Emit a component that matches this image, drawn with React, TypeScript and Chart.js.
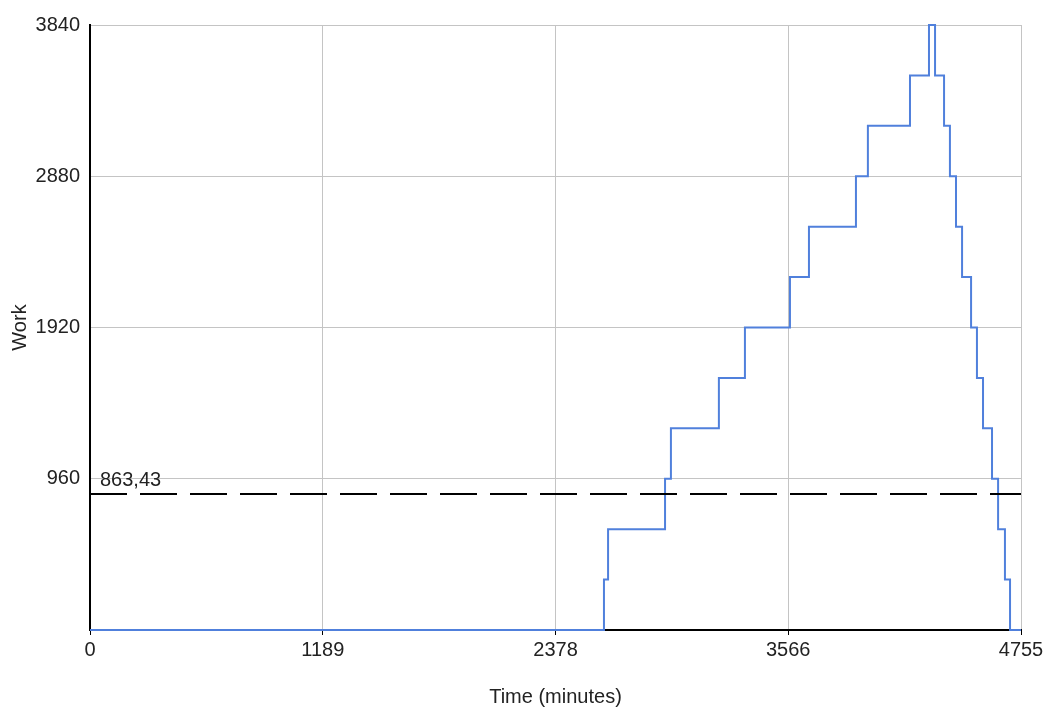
import React, { useEffect, useRef } from "react";
import { Chart, registerables } from "chart.js";

Chart.register(...registerables);

const stepTimes = [0, 2625, 2646, 2937, 2967, 3212, 3345, 3575, 3672, 3912, 3973, 4188, 4285, 4316, 4362, 4392, 4423, 4454, 4500, 4530, 4561, 4607, 4638, 4673, 4699, 4755];
const stepWork = [0, 320, 640, 960, 1280, 1600, 1920, 2240, 2560, 2880, 3200, 3520, 3840, 3520, 3200, 2880, 2560, 2240, 1920, 1600, 1280, 960, 640, 320, 0, 0];
const xTicks = [0, 1189, 2378, 3566, 4755];
const yTicks = [0, 960, 1920, 2880, 3840];
const thresholdValue = 863.43;
const thresholdLabel = "863,43";
const xTitle = "Time (minutes)";
const yTitle = "Work";

const FONT = "'Liberation Sans', Arial, sans-serif";

export default function App() {
  const ref = useRef<HTMLCanvasElement | null>(null);
  useEffect(() => {
    if (!ref.current) return;
    const labelPlugin = {
      id: "thresholdLabel",
      afterDatasetsDraw(chart: any) {
        const { ctx, scales } = chart;
        const x = scales.x.getPixelForValue(0) + 10;
        const y = scales.y.getPixelForValue(thresholdValue) - 3;
        ctx.save();
        ctx.font = `20px ${FONT}`;
        ctx.fillStyle = "#222";
        ctx.textAlign = "left";
        ctx.textBaseline = "bottom";
        ctx.fillText(thresholdLabel, x, y);
        ctx.restore();
      },
    };
    const chart = new Chart(ref.current, {
      type: "line",
      data: {
        datasets: [
          {
            label: "Threshold",
            data: [
              { x: xTicks[0], y: thresholdValue },
              { x: xTicks[xTicks.length - 1], y: thresholdValue },
            ],
            borderColor: "#000",
            borderWidth: 2,
            borderDash: [37, 13],
            pointRadius: 0,
            fill: false,
            clip: false as any,
          },
          {
            label: "Work",
            data: stepTimes.map((t, i) => ({ x: t, y: stepWork[i] })),
            borderColor: "#5080dc",
            borderWidth: 2,
            stepped: "before",
            pointRadius: 0,
            fill: false,
            clip: false as any,
          },
        ],
      },
      options: {
        animation: false,
        responsive: false,
        layout: { padding: { top: 25, right: 26, left: 0, bottom: 0 } },
        plugins: { legend: { display: false }, tooltip: { enabled: false } },
        scales: {
          x: {
            type: "linear",
            min: xTicks[0],
            max: xTicks[xTicks.length - 1],
            afterBuildTicks: (s: any) => {
              s.ticks = xTicks.map((v) => ({ value: v }));
            },
            afterFit: (s: any) => {
              s.height = 79;
            },
            grid: { color: "#c4c4c4", lineWidth: 1, tickColor: "#000", tickLength: 5 },
            border: { color: "#000", width: 2 },
            ticks: {
              color: "#222",
              font: { family: FONT, size: 20 },
              padding: 3,
              maxRotation: 0,
              autoSkip: false,
              callback: (v: any) => String(v),
            },
            title: {
              display: true,
              text: xTitle,
              color: "#222",
              font: { family: FONT, size: 20 },
              padding: { top: 0, bottom: 0 },
            },
          },
          y: {
            type: "linear",
            min: yTicks[0],
            max: yTicks[yTicks.length - 1],
            afterBuildTicks: (s: any) => {
              s.ticks = yTicks.map((v) => ({ value: v }));
            },
            afterFit: (s: any) => {
              s.width = 90;
            },
            grid: { color: "#c4c4c4", lineWidth: 1, drawTicks: false },
            border: { color: "#000", width: 2 },
            ticks: {
              color: "#222",
              font: { family: FONT, size: 20 },
              padding: 10,
              callback: (v: any) => (v === 0 ? "" : String(v)),
            },
            title: {
              display: true,
              text: yTitle,
              color: "#222",
              font: { family: FONT, size: 20 },
              padding: { top: 8, bottom: 0 },
            },
          },
        },
      },
      plugins: [labelPlugin],
    });
    return () => chart.destroy();
  }, []);
  return (
    <div style={{ position: "fixed", left: 0, top: 0, width: 1047, height: 709, background: "#fff" }}>
      <canvas ref={ref} width={1047} height={709} style={{ display: "block" }} />
    </div>
  );
}
